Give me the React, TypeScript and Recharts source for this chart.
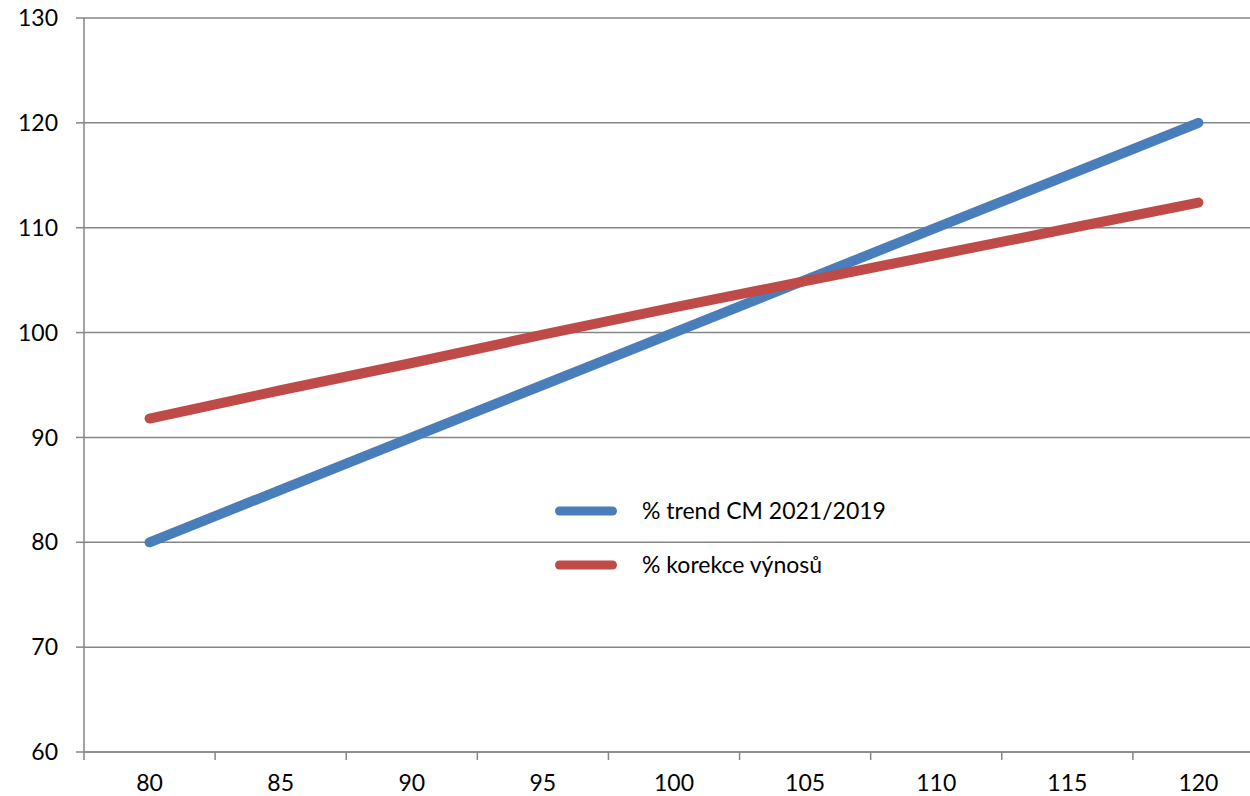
import React from "react";
import { LineChart, Line, XAxis, YAxis, CartesianGrid, Legend } from "recharts";

const categories = [80, 85, 90, 95, 100, 105, 110, 115, 120];
const trendCM = [80, 85, 90, 95, 100, 105, 110, 115, 120];
const korekce = [91.8, 94.5, 97.1, 99.8, 102.4, 104.9, 107.4, 109.9, 112.4];
const yTicks = [60, 70, 80, 90, 100, 110, 120, 130];
const xBoundaries = [77.5, 82.5, 87.5, 92.5, 97.5, 102.5, 107.5, 112.5, 117.5, 122.5];

const SERIES_TREND = "% trend CM 2021/2019";
const SERIES_KOR = "% korekce výnosů";
const legendOrder = [SERIES_TREND, SERIES_KOR];

const data = categories.map((c, i) => ({ x: c, trend: trendCM[i], kor: korekce[i] }));
const xTicks = [...xBoundaries, ...categories].sort((a, b) => a - b);

const FONT = "Lato, 'Open Sans', sans-serif";
const AXIS = "#868686";
const TICK_SIZE = 8;
const X_TICK_MARGIN = 15;

const XTick = (props: any) => {
  const { x, y, payload } = props;
  const v = payload.value as number;
  if (categories.includes(v)) {
    return (
      <text x={x} y={y} dy="0.71em" textAnchor="middle" fill="#000" fontSize={23} fontFamily={FONT}>
        {v}
      </text>
    );
  }
  const axisY = y - TICK_SIZE - X_TICK_MARGIN;
  return <line x1={x} x2={x} y1={axisY} y2={axisY + TICK_SIZE} stroke={AXIS} strokeWidth={1.5} />;
};

const LegendContent = (props: any) => {
  const payload = [...(props.payload || [])].sort(
    (a: any, b: any) => legendOrder.indexOf(a.value) - legendOrder.indexOf(b.value)
  );
  return (
    <svg width={360} height={100} style={{ display: "block" }}>
      {payload.map((p: any, i: number) => (
        <g key={i}>
          <line x1={4.5} x2={57.5} y1={21 + i * 54} y2={21 + i * 54} stroke={p.color} strokeWidth={9} strokeLinecap="round" />
          <text x={87} y={29 + i * 54} fontSize={23} fontFamily={FONT} fill="#000">
            {p.value}
          </text>
        </g>
      ))}
    </svg>
  );
};

export default function App() {
  return (
    <div style={{ position: "absolute", left: 0, top: 0, width: 1250, height: 796, overflow: "hidden", background: "#fff" }}>
      <LineChart width={1264} height={796} data={data} margin={{ top: 18, right: 0, bottom: 0, left: 0 }}>
        <CartesianGrid vertical={false} stroke={AXIS} strokeWidth={1.5} />
        <XAxis
          dataKey="x"
          type="number"
          domain={[77.5, 122.5]}
          ticks={xTicks}
          interval={0}
          height={44}
          tickLine={false}
          tickSize={TICK_SIZE}
          tickMargin={X_TICK_MARGIN}
          axisLine={{ stroke: AXIS, strokeWidth: 1.5 }}
          tick={<XTick />}
        />
        <YAxis
          type="number"
          domain={[60, 130]}
          ticks={yTicks}
          interval={0}
          width={84}
          tickSize={TICK_SIZE}
          tickMargin={18}
          axisLine={{ stroke: AXIS, strokeWidth: 1.5 }}
          tickLine={{ stroke: AXIS, strokeWidth: 1.5 }}
          tick={{ fill: "#000", fontSize: 23, fontFamily: FONT }}
        />
        <Line
          dataKey="trend"
          name={SERIES_TREND}
          stroke="#4A7EBB"
          strokeWidth={10}
          strokeLinecap="round"
          strokeLinejoin="round"
          dot={false}
          activeDot={false}
          isAnimationActive={false}
        />
        <Line
          dataKey="kor"
          name={SERIES_KOR}
          stroke="#BE4B48"
          strokeWidth={10}
          strokeLinecap="round"
          strokeLinejoin="round"
          dot={false}
          activeDot={false}
          isAnimationActive={false}
        />
        <Legend
          layout="horizontal"
          verticalAlign="middle"
          align="center"
          content={<LegendContent />}
          wrapperStyle={{ left: 555, top: 490, width: 360, height: 100 }}
        />
      </LineChart>
    </div>
  );
}
